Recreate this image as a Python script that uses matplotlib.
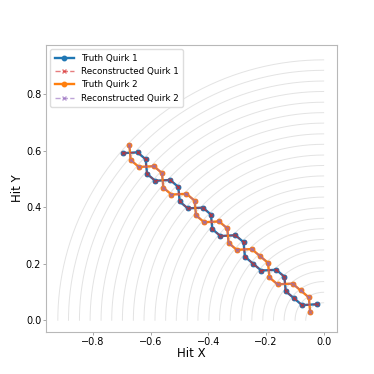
import numpy as np
import matplotlib
matplotlib.use('Agg')
import matplotlib.pyplot as plt

# detector layer radii (outer -> inner)
layer_r = [0.922, 0.885, 0.847, 0.810, 0.772, 0.735, 0.698, 0.660, 0.623, 0.585,
           0.548, 0.511, 0.473, 0.436, 0.398, 0.361, 0.324, 0.286, 0.249, 0.211,
           0.174, 0.137, 0.099, 0.062]

# hits, outer -> inner
q1_x = [-0.6975, -0.6456, -0.6173, -0.6126, -0.5843, -0.5324, -0.5041, -0.4994,
        -0.4711, -0.4192, -0.3909, -0.3862, -0.3579, -0.3060, -0.2777, -0.2730,
        -0.2447, -0.2164, -0.1645, -0.1362, -0.1315, -0.1032, -0.0749, -0.0232]
q1_y = [0.5917, 0.5944, 0.5700, 0.5183, 0.4939, 0.4966, 0.4722, 0.4205,
        0.3961, 0.3988, 0.3743, 0.3227, 0.2982, 0.3010, 0.2765, 0.2249,
        0.2004, 0.1760, 0.1787, 0.1543, 0.1026, 0.0782, 0.0537, 0.0566]
q2_x = [-0.6739, -0.6692, -0.6409, -0.5890, -0.5607, -0.5560, -0.5277, -0.4758,
        -0.4475, -0.4428, -0.4145, -0.3626, -0.3343, -0.3296, -0.3013, -0.2494,
        -0.2211, -0.1928, -0.1881, -0.1598, -0.1079, -0.0796, -0.0513, -0.0468]
q2_y = [0.6189, 0.5672, 0.5428, 0.5455, 0.5211, 0.4694, 0.4450, 0.4477,
        0.4233, 0.3716, 0.3471, 0.3499, 0.3254, 0.2738, 0.2493, 0.2521,
        0.2276, 0.2032, 0.1515, 0.1271, 0.1298, 0.1054, 0.0809, 0.0294]

fig = plt.figure(figsize=(3.74, 3.74), dpi=100)
ax = fig.add_axes([0.123, 0.112, 0.777, 0.768])

theta = np.linspace(np.pi / 2, np.pi, 200)
for r in layer_r:
    ax.plot(r * np.cos(theta), r * np.sin(theta), color='#e3e3e3', lw=0.7, zorder=1)

ax.plot(q1_x, q1_y, '-o', color='#1f77b4', lw=1.7, ms=3.2, label='Truth Quirk 1', zorder=2)
ax.plot(q1_x, q1_y, '--x', color='#d62728', lw=1.0, ms=3, alpha=0.6,
        label='Reconstructed Quirk 1', zorder=3)
ax.plot(q2_x, q2_y, '-o', color='#ff7f0e', lw=1.7, ms=3.2, label='Truth Quirk 2', zorder=2)
ax.plot(q2_x, q2_y, '--x', color='#9467bd', lw=1.0, ms=3, alpha=0.6,
        label='Reconstructed Quirk 2', zorder=3)

ax.set_xlim(-0.963, 0.045)
ax.set_ylim(-0.042, 0.975)
ax.set_xticks([-0.8, -0.6, -0.4, -0.2, 0.0])
ax.set_yticks([0.0, 0.2, 0.4, 0.6, 0.8])
ax.set_xlabel('Hit X', fontsize=8.5, labelpad=0)
ax.set_ylabel('Hit Y', fontsize=8.5, labelpad=1)
ax.tick_params(labelsize=7, length=2, width=0.6, color='#999999', pad=1.5)
for s in ax.spines.values():
    s.set_color('#b8b8b8')
    s.set_linewidth(0.8)

ax.legend(loc='upper left', fontsize=6.3, frameon=True, handlelength=2.2,
          borderpad=0.5, labelspacing=0.5, framealpha=1, edgecolor='#dddddd')

fig.savefig('out.png', dpi=100)
